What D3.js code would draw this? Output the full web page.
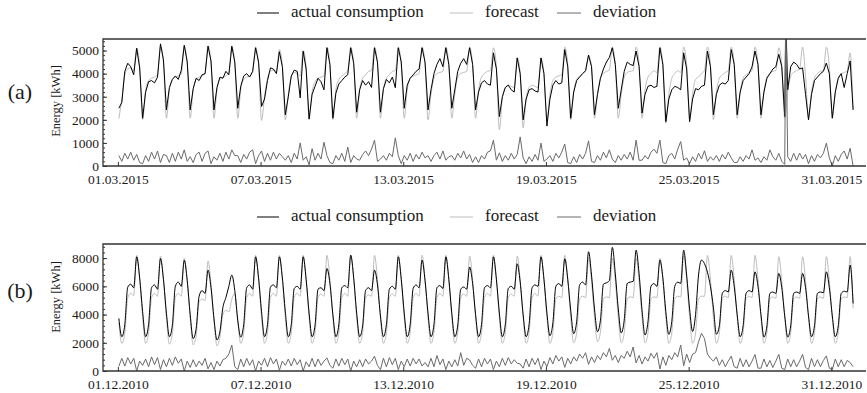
<!DOCTYPE html>
<html>
<head>
<meta charset="utf-8">
<script src="https://cdn.jsdelivr.net/npm/d3@7"></script>
<style>
  html, body { margin: 0; padding: 0; background: #fff; }
  svg { display: block; }
</style>
</head>
<body>
<div id="chart"></div>
<script>
// sample hours inside every day (3 hour steps)
const hoursOfDay = [1, 4, 7, 10, 13, 16, 19, 22];
const legendLabels = ['actual consumption', 'forecast', 'deviation'];

// ---- (a) March 2015, one row per day ----
const actualMar2015 = [
  2500, 2750, 4100, 4450, 4300, 3950, 5100, 4250,
  2070, 3200, 3650, 3700, 3600, 3850, 5290, 4600,
  2430, 3400, 3750, 3900, 3750, 4150, 5230, 4500,
  2430, 3350, 3800, 3700, 3950, 4000, 5190, 4550,
  2430, 3400, 3850, 3800, 4100, 3950, 5190, 4500,
  2500, 3450, 3900, 4000, 3850, 4100, 5120, 4500,
  2580, 2900, 3700, 4250, 4200, 4000, 4950, 4300,
  2220, 3000, 3900, 4150, 4100, 2950, 4970, 4200,
  2030, 3100, 3450, 3800, 3650, 3300, 5120, 4400,
  2070, 3150, 3550, 3700, 3850, 3950, 5120, 4450,
  2330, 3300, 3700, 3500, 3650, 3400, 5120, 4500,
  2330, 3350, 3750, 3600, 3850, 3390, 5120, 4500,
  2500, 3500, 3800, 3950, 4100, 4200, 5120, 4500,
  2430, 3300, 4000, 4400, 4650, 4300, 5120, 4400,
  2500, 3300, 4100, 4450, 4650, 4400, 5120, 4400,
  2430, 3200, 3600, 3700, 3550, 3500, 4900, 4200,
  2140, 3000, 3400, 3500, 3300, 3200, 4680, 4000,
  2000, 2900, 3300, 3350, 3250, 3200, 4680, 4000,
  1730, 2900, 3500, 3700, 3550, 3600, 5040, 4300,
  2070, 3200, 3700, 3850, 4000, 4130, 4800, 4300,
  2220, 3100, 3800, 4200, 4500, 4700, 5120, 4400,
  2500, 3300, 4100, 4500, 4400, 4350, 4980, 4300,
  2290, 3100, 3450, 3500, 3400, 3450, 5120, 4400,
  1920, 2900, 3300, 3450, 3400, 3300, 4900, 4200,
  1920, 2900, 3350, 3300, 3450, 3500, 4980, 4300,
  2220, 3100, 3500, 3600, 3550, 3700, 5040, 4400,
  2220, 3200, 3700, 3850, 4000, 4300, 4980, 4400,
  2220, 3200, 3800, 4000, 4200, 4300, 4840, 4300,
  2140, 3300, 4300, 4500, 4400, 4200, 4250, 3100,
  2000, 3100, 3700, 3850, 4000, 4100, 4460, 4000,
  2070, 3200, 3800, 4000, 3400, 4000, 4550, 2430
];
const forecastMar2015 = [
  2050, 2900, 3950, 4200, 4250, 4150, 5100, 4300,
  2000, 3250, 3700, 3800, 3850, 3950, 5200, 4500,
  2070, 3300, 3750, 3850, 3900, 4000, 5200, 4450,
  2070, 3300, 3750, 3850, 3900, 4000, 5200, 4450,
  2070, 3300, 3750, 3850, 3900, 4050, 5150, 4450,
  2070, 3300, 3750, 3850, 3900, 4050, 5150, 4400,
  1970, 3000, 3800, 4100, 4150, 4100, 5050, 4350,
  2000, 3100, 3850, 4050, 4000, 3900, 5000, 4300,
  2030, 3200, 3650, 3800, 3850, 3900, 5150, 4400,
  2000, 3300, 3750, 3900, 4000, 4130, 5150, 4400,
  2070, 3300, 3800, 3950, 4100, 4130, 5150, 4400,
  2070, 3300, 3800, 3950, 4100, 4130, 5150, 4400,
  2070, 3300, 3800, 3900, 3950, 4000, 5150, 4400,
  2000, 3100, 3800, 4000, 4050, 4100, 5150, 4400,
  2070, 3100, 3850, 4000, 4050, 4100, 5150, 4400,
  2070, 3300, 3850, 4000, 4100, 4130, 5120, 4300,
  1570, 2900, 3400, 3500, 3450, 3400, 4700, 4000,
  1650, 2900, 3400, 3500, 3450, 3400, 4680, 4000,
  2000, 3100, 3700, 3850, 3900, 3950, 5150, 4400,
  2000, 3200, 3750, 3900, 4000, 4100, 4800, 4300,
  2070, 3100, 3800, 4000, 4100, 4150, 5150, 4400,
  2070, 3100, 3850, 4050, 4100, 4130, 5150, 4400,
  2070, 3300, 3850, 4000, 4130, 4050, 5150, 4400,
  1850, 3100, 3800, 4000, 4130, 4050, 5150, 4400,
  2000, 3150, 3750, 3850, 4000, 4130, 5150, 4400,
  2000, 3200, 3800, 3950, 4050, 4130, 5150, 4400,
  2070, 3200, 3800, 3950, 4050, 4130, 5150, 4400,
  2070, 3200, 3850, 4000, 4100, 4130, 5120, 4350,
  2070, 3200, 3900, 4050, 4130, 4200, 5150, 3900,
  2070, 3200, 3800, 4000, 4100, 4130, 5150, 4300,
  2070, 3200, 3800, 4000, 4050, 4130, 4900, 2430
];
const deviationMar2015 = [
  450, 200, 550, 300, 600, 250, 500, 150,
  100, 450, 200, 600, 300, 650, 150, 500,
  450, 150, 550, 200, 600, 300, 700, 200,
  400, 150, 500, 600, 200, 550, 650, 100,
  400, 250, 550, 200, 600, 300, 700, 450,
  450, 150, 500, 300, 600, 700, 100, 450,
  650, 200, 550, 250, 600, 300, 550, 400,
  250, 450, 150, 550, 300, 1000, 250, 400,
  50, 750, 250, 550, 300, 1030, 450, 150,
  100, 450, 250, 550, 200, 820, 150, 450,
  300, 250, 500, 650, 450, 730, 1120, 200,
  300, 450, 250, 550, 400, 1220, 450, 100,
  450, 250, 550, 200, 500, 300, 600, 350,
  450, 200, 450, 600, 300, 650, 250, 400,
  450, 250, 550, 350, 650, 300, 500, 150,
  400, 150, 450, 300, 600, 650, 1120, 250,
  570, 200, 450, 250, 550, 300, 500, 1260,
  350, 100, 400, 200, 500, 250, 990, 200,
  300, 450, 200, 550, 350, 600, 950, 150,
  100, 400, 150, 500, 300, 550, 1090, 200,
  150, 450, 250, 600, 350, 700, 300, 150,
  450, 250, 500, 300, 600, 250, 1120, 250,
  250, 450, 300, 600, 730, 550, 1120, 150,
  100, 450, 550, 300, 730, 1060, 250, 350,
  100, 400, 200, 550, 300, 660, 200, 400,
  250, 450, 200, 500, 300, 600, 350, 150,
  150, 400, 200, 450, 300, 700, 250, 350,
  150, 400, 250, 700, 400, 250, 550, 200,
  70, 400, 200, 550, 250, 560, 300, 500,
  100, 450, 200, 500, 350, 550, 990, 350,
  0, 450, 200, 500, 650, 300, 770, 0
];
// clock change night, reading runs off the top of the chart
const dstSpikeMar2015 = { time: '2015-03-29T02:00:00Z', actual: 6500, deviation: 6500 };

// ---- (b) December 2010, one row per day ----
const actualDec2010 = [
  3730, 2430, 3300, 5950, 6150, 5900, 8090, 6600,
  4200, 2430, 3300, 5900, 6100, 5800, 7970, 6500,
  4100, 2430, 3250, 6000, 6300, 6000, 7850, 6400,
  4000, 2300, 3000, 5300, 5700, 5500, 7150, 5900,
  3700, 2200, 2800, 4500, 5200, 6000, 6800, 5700,
  3600, 2400, 3300, 5900, 6100, 5800, 8090, 6600,
  4200, 2430, 3300, 5950, 6100, 5900, 8090, 6600,
  4200, 2430, 3300, 5850, 6000, 5800, 8090, 6500,
  4100, 2430, 3250, 5800, 5900, 5700, 7270, 6200,
  4000, 2430, 3300, 5900, 6050, 5900, 8210, 6600,
  4100, 2430, 3200, 5700, 5900, 5700, 7150, 6100,
  3900, 2430, 3300, 5800, 6000, 5800, 8090, 6500,
  4100, 2430, 3300, 5850, 6100, 5900, 7860, 6400,
  4100, 2430, 3300, 5900, 6050, 5850, 8090, 6500,
  4100, 2430, 3250, 5800, 5950, 5800, 7370, 6200,
  4000, 2430, 3300, 5900, 6050, 5900, 8090, 6500,
  4100, 2430, 3300, 5850, 6000, 5800, 7600, 6300,
  4000, 2430, 3300, 5900, 6100, 6000, 8090, 6500,
  4100, 2500, 3400, 6000, 6200, 6000, 7950, 6500,
  4300, 2650, 3500, 6100, 6300, 6100, 8450, 6800,
  4400, 2780, 3600, 6150, 6250, 6400, 8760, 6900,
  4400, 2700, 3600, 6200, 6300, 6350, 8570, 6900,
  4300, 2550, 3500, 6000, 6200, 6000, 7860, 6600,
  4200, 2600, 3500, 6000, 6300, 6200, 8570, 6800,
  4400, 2800, 4000, 6800, 7860, 7600, 7000, 6000,
  4500, 2600, 3200, 5500, 5700, 5600, 7150, 6000,
  4000, 2430, 3200, 5500, 5700, 5600, 7030, 6000,
  4000, 2400, 3200, 5500, 5600, 5500, 6920, 5900,
  3900, 2400, 3200, 5500, 5600, 5500, 6920, 5900,
  3900, 2430, 3200, 5500, 5600, 5550, 7030, 5900,
  3900, 2430, 3200, 5500, 5650, 5600, 7500, 4790
];
const forecastDec2010 = [
  3400, 1960, 2700, 5200, 5500, 5350, 8200, 6500,
  3800, 1960, 2700, 5200, 5500, 5300, 8150, 6500,
  3800, 1900, 2650, 5200, 5500, 5300, 8000, 6400,
  3700, 1850, 2500, 4900, 5100, 5000, 7800, 6200,
  3600, 1780, 2400, 4000, 4300, 4200, 5100, 5500,
  3500, 1960, 2700, 5200, 5500, 5300, 8200, 6500,
  3800, 1960, 2700, 5200, 5500, 5300, 8200, 6500,
  3800, 1960, 2700, 5250, 5500, 5300, 8200, 6500,
  3800, 1960, 2700, 5200, 5450, 5300, 8200, 6500,
  3800, 1960, 2700, 5200, 5500, 5300, 8210, 6500,
  3800, 1960, 2700, 5200, 5400, 5300, 8200, 6500,
  3800, 1960, 2700, 5200, 5450, 5300, 8210, 6500,
  3800, 1960, 2700, 5200, 5500, 5300, 8210, 6500,
  3800, 1960, 2700, 5200, 5500, 5300, 8210, 6500,
  3800, 1960, 2700, 5200, 5450, 5300, 8150, 6500,
  3800, 1960, 2700, 5200, 5500, 5300, 8210, 6500,
  3800, 1960, 2700, 5200, 5450, 5300, 8150, 6500,
  3800, 1960, 2700, 5200, 5500, 5300, 8210, 6500,
  3800, 1960, 2700, 5100, 5300, 5200, 8210, 6500,
  3800, 2000, 2700, 5100, 5300, 5200, 7980, 6400,
  3800, 2070, 2750, 5100, 5250, 5200, 8000, 6400,
  3800, 2000, 2700, 5100, 5250, 5200, 8000, 6400,
  3800, 2000, 2700, 5100, 5250, 5200, 8000, 6400,
  3800, 1960, 2700, 5100, 5300, 5250, 8200, 6500,
  3800, 1960, 2700, 5100, 5300, 5300, 8200, 6500,
  3800, 1960, 2700, 5150, 5300, 5200, 8200, 6500,
  3800, 1960, 2700, 5150, 5300, 5200, 8200, 6500,
  3800, 1960, 2700, 5100, 5250, 5150, 8100, 6400,
  3800, 1960, 2700, 5100, 5250, 5150, 8100, 6400,
  3800, 1960, 2700, 5100, 5250, 5150, 8100, 6400,
  3800, 1960, 2700, 5100, 5250, 5200, 8100, 4440
];
const deviationDec2010 = [
  330, 900, 350, 950, 500, 900, 0, 700,
  400, 850, 300, 1000, 450, 950, 100, 800,
  300, 900, 400, 1000, 550, 850, 0, 700,
  250, 800, 300, 700, 400, 900, 150, 600,
  100, 700, 350, 800, 900, 1200, 1840, 300,
  100, 850, 300, 900, 400, 800, 0, 700,
  400, 900, 300, 950, 500, 850, 50, 700,
  400, 850, 350, 900, 450, 800, 0, 650,
  300, 900, 300, 850, 400, 700, 930, 400,
  200, 850, 350, 900, 450, 850, 0, 700,
  300, 800, 300, 850, 500, 700, 1050, 400,
  100, 900, 300, 950, 450, 900, 100, 700,
  300, 850, 350, 900, 500, 850, 350, 600,
  300, 900, 300, 1100, 450, 850, 100, 700,
  300, 800, 350, 1300, 400, 900, 780, 400,
  200, 850, 300, 900, 500, 850, 100, 700,
  300, 900, 400, 950, 500, 800, 550, 500,
  200, 850, 300, 900, 450, 900, 100, 700,
  300, 950, 500, 1100, 700, 1000, 260, 900,
  500, 1000, 700, 1200, 900, 1300, 470, 1000,
  600, 1100, 800, 1300, 1000, 1600, 760, 1100,
  600, 1100, 900, 1400, 1000, 1700, 570, 1100,
  500, 1000, 700, 1250, 900, 1300, 140, 1000,
  400, 1100, 800, 1300, 1000, 1840, 370, 1200,
  600, 1200, 1300, 2070, 2670, 2300, 1200, 900,
  700, 1000, 400, 800, 300, 700, 1050, 300,
  200, 900, 300, 800, 300, 700, 1170, 200,
  200, 850, 300, 750, 250, 700, 1180, 200,
  100, 850, 300, 800, 300, 700, 1180, 250,
  100, 900, 300, 800, 300, 750, 1070, 200,
  100, 850, 300, 800, 300, 750, 600, 300
];

const yTicksMar2015 = [0, 1000, 2000, 3000, 4000, 5000];
const yTicksDec2010 = [0, 2000, 4000, 6000, 8000];

const width = 867;
const height = 393;
const serif = "'Liberation Serif', 'DejaVu Serif', serif";
const colors = { actual: '#000000', forecast: '#bdbdbd', deviation: '#6a6a6a' };

const svg = d3.select('#chart')
  .append('svg')
  .attr('width', width)
  .attr('height', height);

function toPoints(startIso, values) {
  const start = new Date(startIso).getTime();
  const n = hoursOfDay.length;
  return values.map((v, i) => ({
    t: new Date(start + (Math.floor(i / n) * 24 + hoursOfDay[i % n]) * 3600e3),
    v: v
  }));
}

function addSpike(points, time, value) {
  const p = points.slice();
  p.push({ t: new Date(time), v: value });
  p.sort((a, b) => a.t - b.t);
  return p;
}

function renderPanel(cfg) {
  const left = 103, right = 866;
  let actual = toPoints(cfg.start, cfg.actual);
  const forecast = toPoints(cfg.start, cfg.forecast);
  let deviation = toPoints(cfg.start, cfg.deviation);
  if (cfg.spike) {
    actual = addSpike(actual, cfg.spike.time, cfg.spike.actual);
    deviation = addSpike(deviation, cfg.spike.time, cfg.spike.deviation);
  }

  const ext = d3.extent(forecast, d => d.t);
  const x = d3.scaleUtc()
    .domain([d3.utcHour.offset(ext[0], -16), d3.utcHour.offset(ext[1], 13.5)])
    .range([left, right]);
  const y = d3.scaleLinear().domain([0, cfg.yMax]).range([cfg.bottom, cfg.top]);

  const g = svg.append('g').attr('font-family', serif);

  // legend
  const legendX = [[257, 279, 291], [450, 473, 485], [557, 581, 593]];
  const legendColors = [colors.actual, colors.forecast, colors.deviation];
  legendLabels.forEach((label, i) => {
    g.append('line')
      .attr('x1', legendX[i][0]).attr('x2', legendX[i][1])
      .attr('y1', cfg.legendY).attr('y2', cfg.legendY)
      .attr('stroke', legendColors[i])
      .attr('stroke-width', 1);
    g.append('text')
      .attr('x', legendX[i][2])
      .attr('y', cfg.legendY + 4)
      .attr('font-family', serif)
      .attr('font-size', '17px')
      .attr('fill', '#1a1a1a')
      .text(label);
  });

  // panel letter
  g.append('text')
    .attr('x', 20)
    .attr('y', cfg.labelY)
    .attr('text-anchor', 'middle')
    .attr('font-family', serif)
    .attr('font-size', '22px')
    .attr('fill', '#1a1a1a')
    .text(cfg.label);

  // y title
  g.append('text')
    .attr('transform', `translate(${60}, ${cfg.titleY}) rotate(-90)`)
    .attr('text-anchor', 'middle')
    .attr('font-family', serif)
    .attr('font-size', '12.5px')
    .attr('fill', '#1a1a1a')
    .text('Energy [kWh]');

  // data
  const clipId = 'clip-' + cfg.label.replace(/[()]/g, '');
  svg.append('clipPath').attr('id', clipId)
    .append('rect')
    .attr('x', left).attr('y', cfg.top)
    .attr('width', right - left).attr('height', cfg.bottom - cfg.top);

  const line = d3.line().x(d => x(d.t)).y(d => y(d.v));
  const smooth = d3.line().x(d => x(d.t)).y(d => y(d.v)).curve(d3.curveMonotoneX);
  const plot = g.append('g').attr('clip-path', `url(#${clipId})`);
  plot.append('path').datum(forecast)
    .attr('d', smooth).attr('fill', 'none')
    .attr('stroke', colors.forecast).attr('stroke-width', 1);
  plot.append('path').datum(actual)
    .attr('d', cfg.smoothActual ? smooth : line).attr('fill', 'none')
    .attr('stroke', colors.actual).attr('stroke-width', 1);
  plot.append('path').datum(deviation)
    .attr('d', line).attr('fill', 'none')
    .attr('stroke', colors.deviation).attr('stroke-width', 1);

  // axes
  const yAxis = g.append('g')
    .attr('transform', `translate(${left}, 0)`)
    .call(d3.axisLeft(y).tickValues(cfg.yTicks).tickSize(-4).tickPadding(4).tickFormat(d3.format('d')));
  g.append('g')
    .attr('transform', `translate(${left}, 0)`)
    .call(d3.axisLeft(y).tickValues(d3.range(0, cfg.yMax + 1, cfg.minor)).tickSize(-2).tickFormat(''))
    .select('.domain').remove();
  yAxis.select('.domain').remove();
  yAxis.selectAll('text').attr('font-size', '13.5px').attr('font-family', serif).attr('fill', '#1a1a1a');

  const xAxis = g.append('g')
    .attr('transform', `translate(0, ${cfg.bottom})`)
    .call(d3.axisBottom(x)
      .tickValues(d3.utcDay.every(6).range(d3.utcDay.floor(ext[0]), ext[1]))
      .tickSize(-4).tickPadding(8)
      .tickFormat(d3.utcFormat('%d.%m.%Y')));
  xAxis.select('.domain').remove();
  xAxis.selectAll('text').attr('font-size', '13.5px').attr('font-family', serif).attr('fill', '#1a1a1a');
  g.selectAll('.tick line').attr('stroke', '#333');

  // frame: top, left, bottom
  g.append('path')
    .attr('d', `M${right},${cfg.top}H${left}V${cfg.bottom}H${right}`)
    .attr('fill', 'none')
    .attr('stroke', '#333')
    .attr('stroke-width', 1.3);
}

renderPanel({
  label: '(a)', start: '2015-03-01T00:00:00Z',
  actual: actualMar2015, forecast: forecastMar2015, deviation: deviationMar2015,
  spike: dstSpikeMar2015, smoothActual: false,
  yMax: 5500, yTicks: yTicksMar2015, minor: 200,
  top: 39, bottom: 166, legendY: 13, labelY: 99, titleY: 101
});
renderPanel({
  label: '(b)', start: '2010-12-01T00:00:00Z',
  actual: actualDec2010, forecast: forecastDec2010, deviation: deviationDec2010,
  smoothActual: true,
  yMax: 9000, yTicks: yTicksDec2010, minor: 400,
  top: 244, bottom: 371, legendY: 217, labelY: 298, titleY: 297
});
</script>
</body>
</html>
